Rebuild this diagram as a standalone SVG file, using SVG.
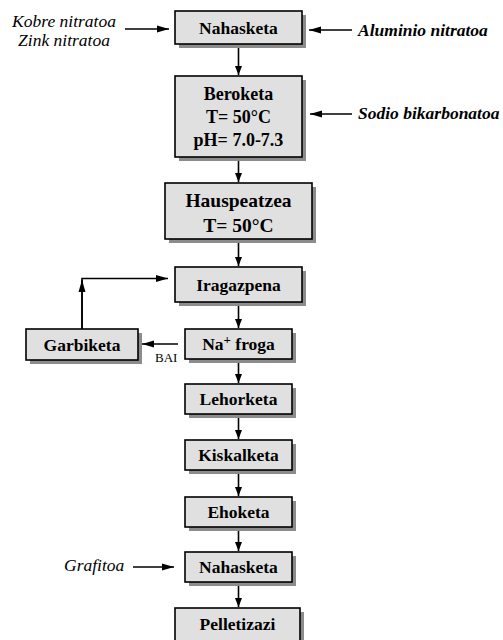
<svg xmlns="http://www.w3.org/2000/svg" width="503" height="640" viewBox="0 0 503 640">
<defs>
<marker id="ah" markerWidth="9" markerHeight="8" refX="9" refY="4" orient="auto" markerUnits="userSpaceOnUse">
<path d="M0,0.5 L9,4 L0,7.5 Z" fill="#000"/>
</marker>
<marker id="al" markerWidth="12" markerHeight="8" refX="12" refY="4" orient="auto" markerUnits="userSpaceOnUse">
<path d="M0,0.5 L12,4 L0,7.5 Z" fill="#000"/>
</marker>
</defs>
<style>
.sh{fill:#8c8c8c}
.bx{fill:#e0e0e0;stroke:#000;stroke-width:1.6}
.bt{font-family:"Liberation Serif","Times New Roman",serif;font-weight:bold;font-size:17.5px;text-anchor:middle;fill:#000}
.big{font-size:19.5px}
.it{font-family:"Liberation Serif","Times New Roman",serif;font-style:italic;font-size:17.5px;fill:#000}
.bi{font-weight:bold}
.sm{font-family:"Liberation Serif","Times New Roman",serif;font-size:13px;fill:#000}
.cn{stroke:#000;stroke-width:1.6;fill:none}
</style>
<rect width="503" height="640" fill="#fff"/>
<g id="nahasketa1">
<rect class="sh" x="179" y="15" width="127" height="33"/>
<rect class="bx" x="175" y="11" width="127" height="33"/>
<text class="bt" x="238.5" y="33.5">Nahasketa</text>
</g>
<g id="beroketa">
<rect class="sh" x="179" y="80" width="127" height="81"/>
<rect class="bx" x="175" y="76" width="127" height="81"/>
<text class="bt" x="238.5" y="100" style="font-size:18px">Beroketa</text>
<text class="bt" x="238.5" y="123" style="font-size:18px">T= 50°C</text>
<text class="bt" x="238.5" y="146" style="font-size:18px">pH= 7.0-7.3</text>
</g>
<g id="hauspeatzea">
<rect class="sh" x="169" y="187" width="147" height="56"/>
<rect class="bx" x="165" y="183" width="147" height="56"/>
<text class="bt big" x="238.5" y="207">Hauspeatzea</text>
<text class="bt big" x="238.5" y="232">T= 50°C</text>
</g>
<g id="iragazpena">
<rect class="sh" x="179" y="271" width="127" height="35"/>
<rect class="bx" x="175" y="267" width="127" height="35"/>
<text class="bt" x="238.5" y="290.5">Iragazpena</text>
</g>
<g id="nafroga">
<rect class="sh" x="189" y="333" width="107" height="30"/>
<rect class="bx" x="185" y="329" width="107" height="30"/>
<text class="bt" x="238.5" y="350">Na<tspan dy="-6" font-size="13px">+</tspan><tspan dy="6"> froga</tspan></text>
</g>
<g id="garbiketa">
<rect class="sh" x="30" y="333" width="112" height="31"/>
<rect class="bx" x="26" y="329" width="112" height="31"/>
<text class="bt" x="82" y="350.5">Garbiketa</text>
</g>
<g id="lehorketa">
<rect class="sh" x="189" y="388" width="107" height="30"/>
<rect class="bx" x="185" y="384" width="107" height="30"/>
<text class="bt" x="238.5" y="405">Lehorketa</text>
</g>
<g id="kiskalketa">
<rect class="sh" x="189" y="444" width="107" height="30"/>
<rect class="bx" x="185" y="440" width="107" height="30"/>
<text class="bt" x="238.5" y="461">Kiskalketa</text>
</g>
<g id="ehoketa">
<rect class="sh" x="189" y="501" width="107" height="30"/>
<rect class="bx" x="185" y="497" width="107" height="30"/>
<text class="bt" x="238.5" y="518">Ehoketa</text>
</g>
<g id="nahasketa2">
<rect class="sh" x="189" y="556" width="107" height="30"/>
<rect class="bx" x="185" y="552" width="107" height="30"/>
<text class="bt" x="238.5" y="573">Nahasketa</text>
</g>
<g id="pelletizazi">
<rect class="sh" x="179" y="612" width="125" height="40"/>
<rect class="bx" x="175" y="608" width="125" height="40"/>
<text class="bt" x="237.5" y="630">Pelletizazi</text>
</g>
<g id="labels">
<text class="it" x="64" y="26.5" text-anchor="middle">Kobre nitratoa</text>
<text class="it" x="64" y="45.5" text-anchor="middle">Zink nitratoa</text>
<text class="it bi" x="358" y="35.5">Aluminio nitratoa</text>
<text class="it bi" x="358" y="119">Sodio bikarbonatoa</text>
<text class="it" x="64" y="570.5">Grafitoa</text>
<text class="sm" x="155" y="362">BAI</text>
</g>
<g id="connectors">
<line class="cn" x1="125" y1="29" x2="169" y2="29" marker-end="url(#al)"/>
<line class="cn" x1="352" y1="30" x2="309" y2="30" marker-end="url(#al)"/>
<line class="cn" x1="352" y1="114" x2="310" y2="114" marker-end="url(#al)"/>
<line class="cn" x1="133" y1="567" x2="174" y2="567" marker-end="url(#al)"/>
<line class="cn" x1="238.5" y1="48" x2="238.5" y2="75" marker-end="url(#ah)"/>
<line class="cn" x1="238.5" y1="161" x2="238.5" y2="182" marker-end="url(#ah)"/>
<line class="cn" x1="238.5" y1="243" x2="238.5" y2="266" marker-end="url(#ah)"/>
<line class="cn" x1="238.5" y1="306" x2="238.5" y2="328" marker-end="url(#ah)"/>
<line class="cn" x1="238.5" y1="363" x2="238.5" y2="383" marker-end="url(#ah)"/>
<line class="cn" x1="238.5" y1="418" x2="238.5" y2="439" marker-end="url(#ah)"/>
<line class="cn" x1="238.5" y1="474" x2="238.5" y2="496" marker-end="url(#ah)"/>
<line class="cn" x1="238.5" y1="531" x2="238.5" y2="551" marker-end="url(#ah)"/>
<line class="cn" x1="238.5" y1="586" x2="238.5" y2="607" marker-end="url(#ah)"/>
<line class="cn" x1="178" y1="344" x2="142" y2="344" marker-end="url(#al)"/>
<polyline class="cn" points="82,329 82,278.5 168,278.5" marker-end="url(#al)"/>
<line class="cn" x1="82" y1="329" x2="82" y2="280" marker-end="url(#al)"/>
</g>
</svg>
